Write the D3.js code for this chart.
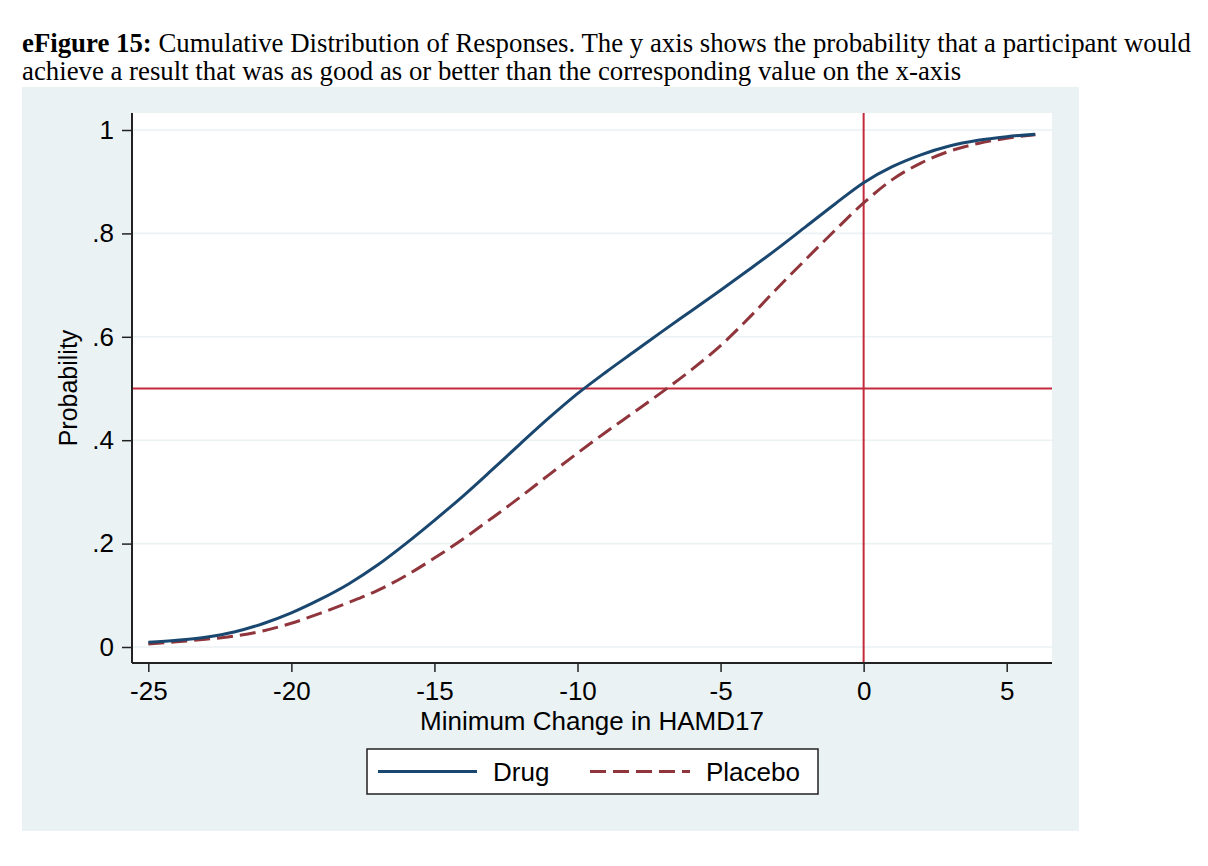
<!DOCTYPE html>
<html>
<head>
<meta charset="utf-8">
<script src="https://cdn.jsdelivr.net/npm/d3@7"></script>
<style>
  body { margin: 0; background: #fff; }
  svg { display: block; }
</style>
</head>
<body>
<svg id="chart" width="1208" height="866"></svg>
<script>
// change in HAMD17 (x) and cumulative probability per arm
const changeValues = [-25, -24, -23, -22, -21, -20, -19, -18, -17, -16, -15, -14, -13, -12, -11, -10,
  -9, -8, -7, -6, -5, -4, -3, -2, -1, 0, 1, 2, 3, 4, 5, 6];
const drugProb = [0.009, 0.013, 0.019, 0.029, 0.045, 0.066, 0.092, 0.122, 0.158, 0.200, 0.245, 0.292,
  0.342, 0.393, 0.443, 0.490, 0.532, 0.572, 0.612, 0.651, 0.690, 0.730, 0.771, 0.814, 0.857, 0.898,
  0.929, 0.952, 0.969, 0.980, 0.987, 0.992];
const placeboProb = [0.006, 0.010, 0.015, 0.021, 0.031, 0.046, 0.065, 0.086, 0.109, 0.138, 0.172, 0.209,
  0.249, 0.290, 0.333, 0.375, 0.416, 0.455, 0.495, 0.537, 0.583, 0.637, 0.695, 0.751, 0.806, 0.859,
  0.904, 0.936, 0.959, 0.974, 0.984, 0.991];
const xTicks = [-25, -20, -15, -10, -5, 0, 5];
const yTicks = [0, 0.2, 0.4, 0.6, 0.8, 1];
const yTickLabels = ['0', '.2', '.4', '.6', '.8', '1'];
const refX = 0;
const refY = 0.5;

const svg = d3.select('#chart');
const sans = 'Liberation Sans, Arial, Helvetica, sans-serif';
const serif = 'Liberation Serif, Times New Roman, serif';
const fs = 26;

// title
let title = svg.append('text')
  .attr('font-family', serif)
  .attr('font-size', 26.8)
  .attr('fill', '#000');
let t1 = title.append('tspan').attr('x', 22).attr('y', 52);
t1.append('tspan').attr('font-weight', 'bold').text('eFigure 15:');
t1.append('tspan').text(' Cumulative Distribution of Responses. The y axis shows the probability that a participant would');
title.append('tspan').attr('x', 22).attr('y', 80)
  .text('achieve a result that was as good as or better than the corresponding value on the x-axis');

// outer panel
svg.append('rect')
  .attr('x', 22).attr('y', 87).attr('width', 1057).attr('height', 744)
  .attr('fill', '#eaf2f3');

const plot = {left: 132, right: 1052, top: 113, bottom: 663};

svg.append('rect')
  .attr('x', plot.left).attr('y', plot.top)
  .attr('width', plot.right - plot.left).attr('height', plot.bottom - plot.top)
  .attr('fill', '#fff');

const xScale = d3.scaleLinear().domain([-25, 5]).range([148.3, 1006.7]);
const yScale = d3.scaleLinear().domain([0, 1]).range([647, 130]);

// gridlines
svg.append('g')
  .selectAll('line')
  .data(yTicks)
  .enter()
  .append('line')
  .attr('x1', plot.left).attr('x2', plot.right)
  .attr('y1', d => yScale(d)).attr('y2', d => yScale(d))
  .attr('stroke', '#eaf2f3')
  .attr('stroke-width', 1.6);

// reference lines
svg.append('line')
  .attr('x1', plot.left).attr('x2', plot.right)
  .attr('y1', yScale(refY)).attr('y2', yScale(refY))
  .attr('stroke', '#c42a3c').attr('stroke-width', 2);
svg.append('line')
  .attr('x1', xScale(refX)).attr('x2', xScale(refX))
  .attr('y1', plot.top).attr('y2', plot.bottom)
  .attr('stroke', '#c42a3c').attr('stroke-width', 2);

// curves
let line = d3.line()
  .x((d, i) => xScale(changeValues[i]))
  .y(d => yScale(d))
  .curve(d3.curveMonotoneX);

svg.append('path')
  .datum(placeboProb)
  .attr('d', line)
  .attr('fill', 'none')
  .attr('stroke', '#90353b')
  .attr('stroke-width', 3)
  .attr('stroke-dasharray', '16,7');

svg.append('path')
  .datum(drugProb)
  .attr('d', line)
  .attr('fill', 'none')
  .attr('stroke', '#1a476f')
  .attr('stroke-width', 3);

// axes
let yAxis = d3.axisLeft(yScale)
  .tickValues(yTicks)
  .tickFormat((d, i) => yTickLabels[i])
  .tickSize(10)
  .tickPadding(8);
let yG = svg.append('g')
  .attr('transform', 'translate(' + plot.left + ',0)')
  .call(yAxis);

let xAxis = d3.axisBottom(xScale)
  .tickValues(xTicks)
  .tickFormat(d => d < 0 ? '-' + Math.abs(d) : d)
  .tickSize(9)
  .tickPadding(6);
let xG = svg.append('g')
  .attr('transform', 'translate(0,' + plot.bottom + ')')
  .call(xAxis);

[xG, yG].forEach(g => {
  g.select('.domain').remove();
  g.selectAll('line').attr('stroke', '#222').attr('stroke-width', 1.5);
  g.selectAll('text')
    .attr('font-family', sans)
    .attr('font-size', fs)
    .attr('fill', '#000');
});
xG.selectAll('text').attr('dy', '0.85em');

// axis lines
svg.append('line')
  .attr('x1', plot.left).attr('x2', plot.left)
  .attr('y1', plot.top).attr('y2', plot.bottom)
  .attr('stroke', '#222').attr('stroke-width', 2);
svg.append('line')
  .attr('x1', plot.left).attr('x2', plot.right)
  .attr('y1', plot.bottom).attr('y2', plot.bottom)
  .attr('stroke', '#222').attr('stroke-width', 2);

// axis titles
svg.append('text')
  .attr('x', 592).attr('y', 730)
  .attr('text-anchor', 'middle')
  .attr('font-family', sans).attr('font-size', fs)
  .text('Minimum Change in HAMD17');

svg.append('text')
  .attr('transform', 'translate(77,388) rotate(-90)')
  .attr('text-anchor', 'middle')
  .attr('font-family', sans).attr('font-size', 25)
  .text('Probability');

// legend
let legend = svg.append('g');
legend.append('rect')
  .attr('x', 367).attr('y', 749).attr('width', 451).attr('height', 45)
  .attr('fill', '#fff').attr('stroke', '#222').attr('stroke-width', 1.5);
legend.append('line')
  .attr('x1', 378).attr('x2', 477).attr('y1', 771.5).attr('y2', 771.5)
  .attr('stroke', '#1a476f').attr('stroke-width', 3);
legend.append('text')
  .attr('x', 493).attr('y', 781)
  .attr('font-family', sans).attr('font-size', fs)
  .text('Drug');
legend.append('line')
  .attr('x1', 590).attr('x2', 690).attr('y1', 771.5).attr('y2', 771.5)
  .attr('stroke', '#90353b').attr('stroke-width', 3)
  .attr('stroke-dasharray', '16,7');
legend.append('text')
  .attr('x', 706).attr('y', 781)
  .attr('font-family', sans).attr('font-size', fs)
  .text('Placebo');
</script>
</body>
</html>
